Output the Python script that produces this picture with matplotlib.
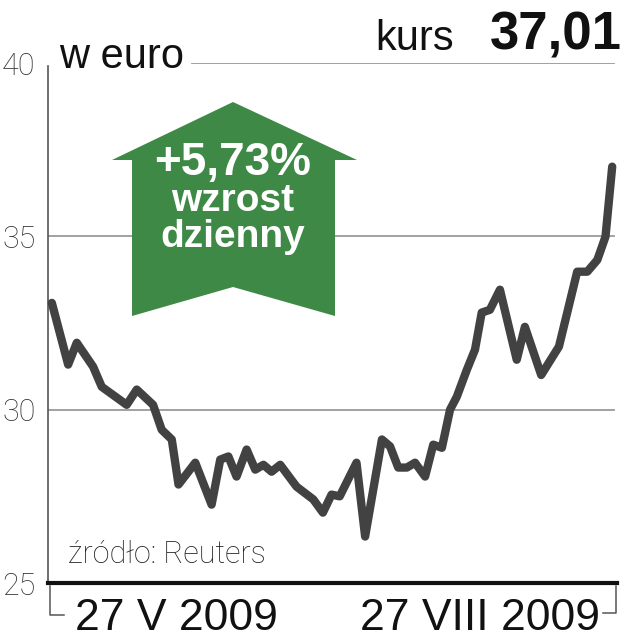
import matplotlib
matplotlib.use("Agg")
from matplotlib import pyplot as plt
from matplotlib.patches import Polygon
from matplotlib.lines import Line2D
from matplotlib.transforms import blended_transform_factory

W, H = 628, 640

# trading days counted from the first point of the chart
days = [0, 3.4, 5.2, 8.6, 10.4, 15.6, 17.7, 21.1, 22.9, 25.0,
        26.4, 29.9, 33.3, 35.1, 36.8, 38.5, 40.6, 42.4, 44.1, 45.8,
        47.6, 51.0, 54.5, 56.5, 58.3, 60.0, 63.5, 65.3, 68.8, 70.5,
        72.2, 74.0, 75.7, 77.8, 79.5, 81.3, 83.0, 84.4, 86.5, 88.2,
        89.6, 91.3, 93.4, 96.9, 98.6, 102.0, 105.7, 109.5, 111.6, 113.7,
        115.4, 116.8]
price = [33.08, 31.3, 31.93, 31.24, 30.66, 30.14, 30.58, 30.14, 29.42, 29.14,
         27.84, 28.47, 27.26, 28.56, 28.65, 28.07, 28.85, 28.27, 28.41, 28.21,
         28.41, 27.78, 27.41, 27.03, 27.55, 27.5, 28.47, 26.34, 29.14, 28.94,
         28.33, 28.33, 28.47, 28.07, 28.99, 28.9, 30.0, 30.37, 31.15, 31.73,
         32.8, 32.88, 33.46, 31.44, 32.39, 31.0, 31.82, 33.98, 33.98, 34.32,
         34.99, 37.01]

y_ticks = [25, 30, 35, 40]
date_pos = [25.9, 89.2]
date_labels = ["27 V 2009", "27 VIII 2009"]

last_price = "37,01"
daily_change = "+5,73%"

GREEN = "#3d8945"
LINE = "#424242"


def px(x, y):
    return x / W, 1 - y / H


fig = plt.figure(figsize=(W / 100, H / 100), dpi=100)
ax = fig.add_axes([48 / W, 1 - 583 / H, (617 - 48) / W, (583 - 63) / H])
ax.set_xlim(-0.8, 117.8)
ax.set_ylim(25, 40)

# grid lines (the top one starts after "w euro")
for v in y_ticks[1:]:
    start = (192 - 48) / (617 - 48) if v == 40 else 0
    ax.axhline(v, xmin=start, xmax=0.995, color="#9a9a9a", lw=1.3, zorder=1)

ax.plot(days, price, color=LINE, lw=6, solid_joinstyle="round",
        solid_capstyle="round", zorder=3, clip_on=False)

for side in ["top", "right"]:
    ax.spines[side].set_visible(False)
ax.spines["left"].set_color("#555555")
ax.spines["left"].set_linewidth(1.2)
ax.spines["left"].set_bounds(25, 39.9)
ax.spines["bottom"].set_color("#111111")
ax.spines["bottom"].set_linewidth(3)

ax.set_yticks(y_ticks)
ax.set_yticklabels([str(v) for v in y_ticks], fontfamily="Roboto",
                   fontweight="light", fontsize=22, color="#333333")
ax.tick_params(axis="y", length=0, pad=9)
ax.set_xticks([])

# date labels under the axis
trans = blended_transform_factory(ax.transData, fig.transFigure)
for pos, lab in zip(date_pos, date_labels):
    ax.text(pos, 1 - 630 / H, lab, transform=trans, ha="center",
            va="baseline", fontsize=32, fontfamily="Liberation Sans",
            color="#111111")

# brackets under the axis
for xs, ys in [([50, 50, 64], [586, 615, 615]),
               ([603, 616, 616], [613, 613, 586])]:
    fx = [x / W for x in xs]
    fy = [1 - y / H for y in ys]
    fig.add_artist(Line2D(fx, fy, color="#555555", lw=1.1))

# titles
fig.text(*px(59, 68), "w euro", fontsize=30, fontfamily="Liberation Sans",
         color="#111111", va="baseline")
fig.text(*px(375, 50), "kurs", fontsize=30, fontfamily="Liberation Sans",
         color="#111111", va="baseline")
fig.text(*px(622, 50), last_price, fontsize=38, fontweight="bold",
         fontfamily="Liberation Sans", color="#111111", va="baseline",
         ha="right")
fig.text(*px(68, 563), "źródło: Reuters", fontsize=22, fontfamily="Roboto",
         fontweight="light", color="#222222", va="baseline")

# green arrow
arrow = [(233, 102), (357, 160), (335, 160), (335, 316), (233, 287),
         (132, 316), (132, 160), (112, 160)]
fig.add_artist(Polygon([px(x, y) for x, y in arrow], closed=True,
                       transform=fig.transFigure, facecolor=GREEN,
                       edgecolor="none", zorder=4))
fig.text(*px(233, 175), daily_change, fontsize=33, fontweight="bold",
         fontfamily="Liberation Sans", color="white", ha="center",
         va="baseline", zorder=5)
fig.text(*px(233, 211), "wzrost", fontsize=28, fontweight="bold",
         fontfamily="Liberation Sans", color="white", ha="center",
         va="baseline", zorder=5)
fig.text(*px(233, 247), "dzienny", fontsize=28, fontweight="bold",
         fontfamily="Liberation Sans", color="white", ha="center",
         va="baseline", zorder=5)

fig.savefig("out.png", dpi=100)
